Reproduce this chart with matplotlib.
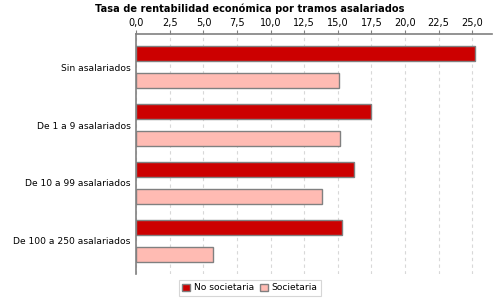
import numpy as np
import matplotlib.pyplot as plt
from matplotlib.ticker import FuncFormatter, MultipleLocator

categories = ['Sin asalariados', 'De 1 a 9 asalariados',
              'De 10 a 99 asalariados', 'De 100 a 250 asalariados']
no_societaria = [25.2, 17.5, 16.2, 15.3]
societaria = [15.1, 15.2, 13.8, 5.7]
series_names = ['No societaria', 'Societaria']

fig = plt.figure(figsize=(5, 3), dpi=100)
ax = fig.add_axes([0.2726, 0.0867, 0.712, 0.80])

y = np.arange(len(categories))
h = 0.259
off = 0.233
ax.barh(y - off, no_societaria, height=h, color='#cc0000',
        edgecolor='#808080', linewidth=1, label=series_names[0], zorder=3)
ax.barh(y + off, societaria, height=h, color='#ffbbb3',
        edgecolor='#808080', linewidth=1, label=series_names[1], zorder=3)

ax.set_xlim(0, 26.5)
ax.set_ylim(3.57, -0.57)
ax.xaxis.set_major_locator(MultipleLocator(2.5))
ax.xaxis.set_major_formatter(FuncFormatter(lambda v, p: f'{v:.1f}'.replace('.', ',')))
ax.xaxis.tick_top()
ax.tick_params(axis='x', labelsize=7, length=3, color='#808080', pad=1)
ax.set_yticks(y)
ax.set_yticklabels(categories, fontsize=6.6)
ax.tick_params(axis='y', length=0, pad=4)
ax.grid(axis='x', color='#d8d8d8', linestyle=(0, (3, 3)), linewidth=0.8, zorder=0)

for side in ['right', 'bottom']:
    ax.spines[side].set_visible(False)
for side in ['top', 'left']:
    ax.spines[side].set_color('#808080')
    ax.spines[side].set_linewidth(1.2)

fig.text(0.5, 0.972, 'Tasa de rentabilidad económica por tramos asalariados',
         ha='center', va='center', fontsize=7.1, fontweight='bold')

leg = fig.legend(loc='center', bbox_to_anchor=(0.5, 0.04), ncol=2,
                 fontsize=6.6, frameon=True, fancybox=False,
                 handlelength=0.9, handleheight=0.9, handletextpad=0.4,
                 columnspacing=0.6, borderpad=0.35)
leg.get_frame().set_edgecolor('#cccccc')
leg.get_frame().set_linewidth(0.8)

fig.savefig('out.png', dpi=100)
